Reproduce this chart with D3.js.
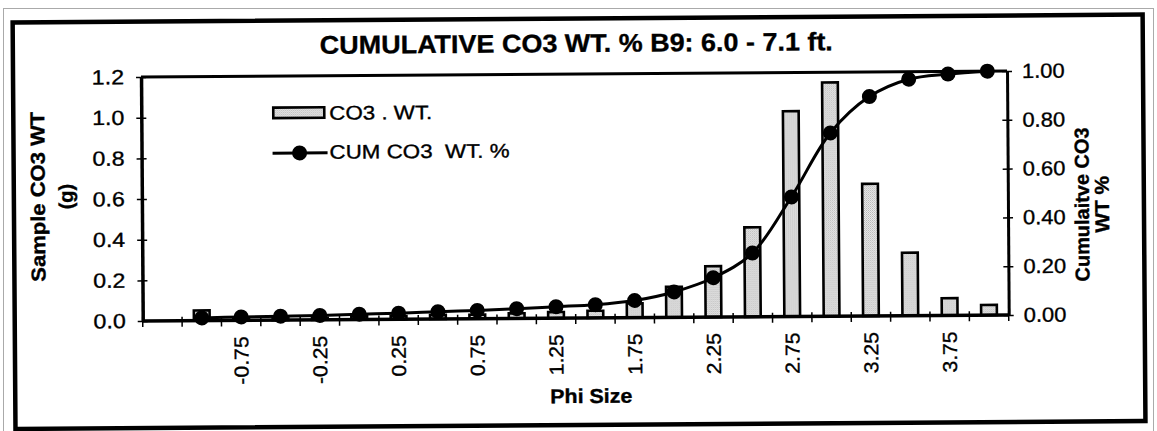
<!DOCTYPE html>
<html>
<head>
<meta charset="utf-8">
<script src="https://cdn.jsdelivr.net/npm/d3@7"></script>
<style>
  html, body { margin: 0; padding: 0; background: #fff; }
  svg { display: block; font-family: "Liberation Sans", Arial, sans-serif; }
  text { stroke: #000; stroke-width: 0.35px; fill: #000; }
</style>
</head>
<body>
<svg id="chart" width="1157" height="431"></svg>
<script>
// ---- data ----
const categories = ["", "-1.00", "-0.75", "-0.50", "-0.25", "0.00", "0.25", "0.50", "0.75", "1.00",
  "1.25", "1.50", "1.75", "2.00", "2.25", "2.50", "2.75", "3.00", "3.25", "3.50", "3.75", "4.00"];
const co3Weight = [null, 0.05, 0.01, 0.01, 0.01, 0.015, 0.015, 0.02, 0.02, 0.025,
  0.03, 0.035, 0.07, 0.15, 0.25, 0.44, 1.01, 1.15, 0.65, 0.31, 0.085, 0.05];
const cumPercent = [null, 0.011, 0.014, 0.016, 0.018, 0.022, 0.025, 0.03, 0.034, 0.04,
  0.047, 0.054, 0.07, 0.104, 0.161, 0.261, 0.49, 0.751, 0.899, 0.969, 0.989, 1.0];
const leftTicks = [0, 0.2, 0.4, 0.6, 0.8, 1.0, 1.2];
const rightTicks = [0, 0.2, 0.4, 0.6, 0.8, 1.0];
const xTickLabels = ["-0.75", "-0.25", "0.25", "0.75", "1.25", "1.75", "2.25", "2.75", "3.25", "3.75"];
const titleText = "CUMULATIVE CO3 WT. % B9: 6.0 - 7.1 ft.";
const seriesNames = ["CO3 . WT.", "CUM CO3  WT. %"];

// ---- layout ----
const M = { left: 142, right: 1008, top: 74, bottom: 318 };
const svg = d3.select("#chart");

function stretch(sel, k) {
  sel.each(function () {
    const w = this.getComputedTextLength();
    this.setAttribute("textLength", w * k);
    this.setAttribute("lengthAdjust", "spacingAndGlyphs");
  });
}
function fitTo(sel, len) {
  sel.attr("textLength", len).attr("lengthAdjust", "spacingAndGlyphs");
}

// stipple pattern for bars
const defs = svg.append("defs");
const pat = defs.append("pattern").attr("id", "stip").attr("patternUnits", "userSpaceOnUse")
  .attr("width", 2).attr("height", 2);
pat.append("rect").attr("width", 2).attr("height", 2).attr("fill", "#ececec");
pat.append("rect").attr("x", 0).attr("y", 0).attr("width", 1).attr("height", 1).attr("fill", "#b4b4b4");
pat.append("rect").attr("x", 1).attr("y", 1).attr("width", 1).attr("height", 1).attr("fill", "#c8c8c8");

// faint scan border
svg.append("rect").attr("x", 3.5).attr("y", 8.5).attr("width", 1150).attr("height", 440)
  .attr("fill", "none").attr("stroke", "#aaa").attr("stroke-width", 1);

const root = svg.append("g").attr("transform", "rotate(-0.4 578 215)");

// thick chart frame
root.append("rect").attr("x", 14).attr("y", 18.5).attr("width", 1130).attr("height", 406.5)
  .attr("fill", "none").attr("stroke", "#000").attr("stroke-width", 4.5);

// scales
const x = d3.scaleBand().domain(categories).range([M.left, M.right]).padding(0);
const yL = d3.scaleLinear().domain([0, 1.2]).range([M.bottom, M.top]);
const yR = d3.scaleLinear().domain([0, 1]).range([M.bottom, M.top]);
const cx = c => x(c) + x.bandwidth() / 2;

// bars
const barData = categories.map((c, i) => ({ c, v: co3Weight[i] })).filter(d => d.v != null);
const bw = x.bandwidth() * 0.4;
root.append("g").selectAll("rect").data(barData).join("rect")
  .attr("x", d => cx(d.c) - bw / 2)
  .attr("y", d => yL(d.v))
  .attr("width", bw)
  .attr("height", d => yL(0) - yL(d.v))
  .attr("fill", "url(#stip)")
  .attr("stroke", "#000")
  .attr("stroke-width", 2.6);

// plot top border
root.append("line").attr("x1", M.left).attr("x2", M.right).attr("y1", M.top).attr("y2", M.top)
  .attr("stroke", "#000").attr("stroke-width", 3);

// left axis
const axL = root.append("g").attr("transform", `translate(${M.left},0)`)
  .call(d3.axisLeft(yL).tickValues(leftTicks).tickFormat(d3.format(".1f")).tickSize(5).tickSizeOuter(0).tickPadding(12));
axL.select(".domain").attr("stroke-width", 3.5).attr("stroke", "#000");
axL.selectAll(".tick line").attr("x1", 5).attr("stroke-width", 1.5);
axL.selectAll(".tick text").attr("font-size", 20.5).attr("fill", "#000").attr("font-family", "Liberation Sans, Arial, sans-serif");
stretch(axL.selectAll(".tick text"), 1.13);

// right axis
const axR = root.append("g").attr("transform", `translate(${M.right},0)`)
  .call(d3.axisRight(yR).tickValues(rightTicks).tickFormat(d3.format(".2f")).tickSize(5).tickSizeOuter(0).tickPadding(10));
axR.select(".domain").attr("stroke-width", 3).attr("stroke", "#000");
axR.selectAll(".tick line").attr("x1", -5).attr("stroke-width", 1.5);
axR.selectAll(".tick text").attr("font-size", 20.5).attr("fill", "#000").attr("font-family", "Liberation Sans, Arial, sans-serif");
stretch(axR.selectAll(".tick text"), 1.07);

// bottom axis (category boundaries ticks)
const edges = categories.map(c => x(c)).concat([x.range()[1]]);
const axB = root.append("g");
axB.selectAll("line.tk").data(edges).join("line").attr("class", "tk")
  .attr("x1", d => d).attr("x2", d => d).attr("y1", M.bottom - 4).attr("y2", M.bottom + 6)
  .attr("stroke", "#000").attr("stroke-width", 1.5);
axB.append("line").attr("x1", M.left).attr("x2", M.right).attr("y1", M.bottom).attr("y2", M.bottom)
  .attr("stroke", "#000").attr("stroke-width", 3.5);
const xl = axB.selectAll("text.xl").data(categories.filter(c => xTickLabels.includes(c))).join("text")
  .attr("class", "xl")
  .attr("transform", d => `translate(${cx(d)},${M.bottom + 16}) rotate(-90)`)
  .attr("text-anchor", "end").attr("dy", "0.35em")
  .attr("font-size", 20).text(d => d);
stretch(xl, 1.06);

// cumulative line
const lineData = categories.map((c, i) => ({ c, v: cumPercent[i] })).filter(d => d.v != null);
const line = d3.line().x(d => cx(d.c)).y(d => yR(d.v)).curve(d3.curveCatmullRom.alpha(0.5));
root.append("path").datum(lineData).attr("d", line)
  .attr("fill", "none").attr("stroke", "#000").attr("stroke-width", 3);
root.append("g").selectAll("circle").data(lineData).join("circle")
  .attr("cx", d => cx(d.c)).attr("cy", d => yR(d.v)).attr("r", 7.5).attr("fill", "#000");

// title
const t = root.append("text").attr("x", 321).attr("y", 52).attr("font-size", 25.5).attr("font-weight", "bold")
  .text(titleText);
fitTo(t, 513);

// axis titles
const lt = root.append("g").attr("transform", "translate(45,193) rotate(-90)");
fitTo(lt.append("text").attr("text-anchor", "middle").attr("font-size", 20).attr("font-weight", "bold")
  .text("Sample CO3 WT"), 170);
lt.append("text").attr("text-anchor", "middle").attr("y", 28).attr("font-size", 20).attr("font-weight", "bold")
  .text("(g)");

const rt = root.append("g").attr("transform", "translate(1089,208) rotate(-90)");
fitTo(rt.append("text").attr("text-anchor", "middle").attr("font-size", 20).attr("font-weight", "bold")
  .text("Cumulaitve CO3"), 154);
fitTo(rt.append("text").attr("text-anchor", "middle").attr("y", 20).attr("font-size", 20).attr("font-weight", "bold")
  .text("WT %"), 57);

const xt = root.append("text").attr("x", 590).attr("y", 403).attr("text-anchor", "middle")
  .attr("font-size", 20).attr("font-weight", "bold").text("Phi Size");
fitTo(xt, 82);

// legend
const lg = root.append("g");
lg.append("rect").attr("x", 274).attr("y", 105.5).attr("width", 51).attr("height", 10.5)
  .attr("fill", "url(#stip)").attr("stroke", "#000").attr("stroke-width", 2.6);
fitTo(lg.append("text").attr("x", 330).attr("y", 118).attr("font-size", 19.5).text(seriesNames[0]), 103);
lg.append("line").attr("x1", 273).attr("x2", 328).attr("y1", 151).attr("y2", 151)
  .attr("stroke", "#000").attr("stroke-width", 3);
lg.append("circle").attr("cx", 300).attr("cy", 151).attr("r", 7.5).attr("fill", "#000");
fitTo(lg.append("text").attr("x", 330).attr("y", 157).attr("font-size", 19.5).attr("xml:space", "preserve")
  .style("white-space", "pre").text(seriesNames[1]), 180);
</script>
</body>
</html>
